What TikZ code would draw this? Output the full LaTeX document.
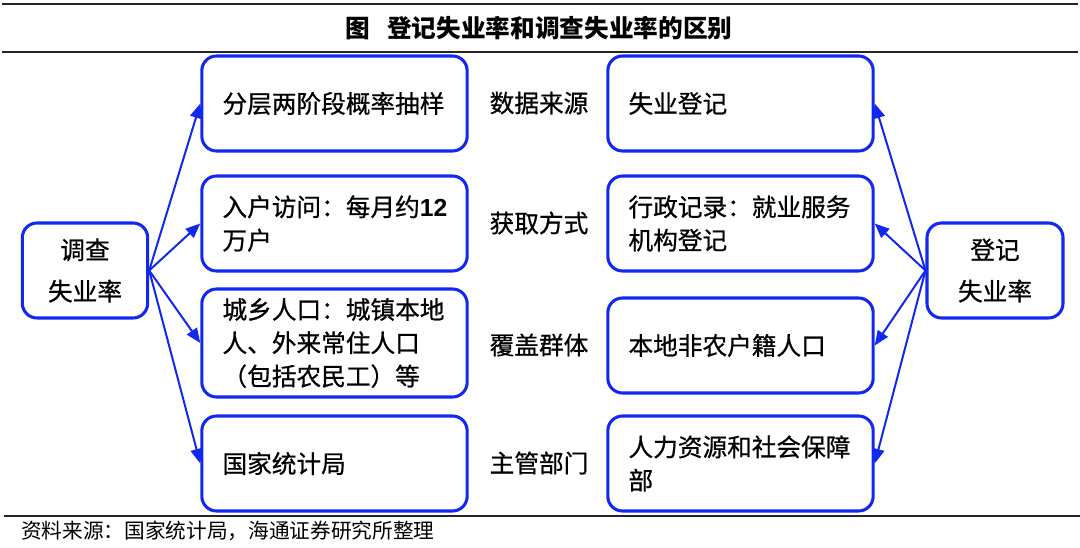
\documentclass[tikz,border=0pt]{standalone}
\usepackage{fontspec}
\setmainfont{Noto Sans CJK SC}[FakeBold=0.7]
\newfontfamily\plainf{Noto Sans CJK SC}
\newfontfamily\arialf{Liberation Sans}
\usetikzlibrary{arrows.meta}
\definecolor{boxblue}{RGB}{18,40,238}
\begin{document}
\begin{tikzpicture}[x=0.75pt,y=-0.75pt,
  frame/.style={draw=boxblue, line width=2.3pt, rounded corners=11pt, fill=white},
  bigbox/.style={frame, align=center, font=\fontsize{18.5}{31}\selectfont, inner sep=0pt},
  itembox/.style={frame, align=left, text width=168pt, inner xsep=15.5pt, inner ysep=0pt,
     minimum height=71.25pt, font=\fontsize{18.5}{25}\selectfont},
  midlabel/.style={font=\fontsize{18.5}{25}\selectfont, inner sep=0pt},
  arr/.style={draw=boxblue, line width=1.5pt, -{Triangle[length=11pt,width=9pt]}},
  rule/.style={line width=1.8pt, black!85}]
\useasboundingbox (0,0) rectangle (1080,548);
% rules
\draw[rule] (2,4) -- (1078,4);
\draw[rule] (2,52) -- (1078,52);
\draw[line width=1.2pt, black!85] (4,516) -- (1080,516);
% title and source
\node[font=\fontsize{18.5}{25}\selectfont\plainf\bfseries, inner sep=0pt] (title) at (539,28) {图\hspace{0.7em}登记失业率和调查失业率的区别};
\node[font=\fontsize{15.5}{20}\selectfont\plainf, anchor=west, inner sep=0pt] (src) at (21,531) {资料来源：国家统计局，海通证券研究所整理};
% side boxes
\node[bigbox, minimum width=94pt, minimum height=71.25pt] (L) at (85,270.5) {调查\\失业率};
\node[bigbox, minimum width=102pt, minimum height=71.25pt] (R) at (995,270.5) {登记\\失业率};
% left boxes
\node[itembox] (lb1) at (334.5,103.5) {分层两阶段概率抽样};
\node[itembox] (lb2) at (334.5,223.5) {入户访问：每月约{\arialf\bfseries 12}\\万户};
\node[itembox, minimum height=81pt] (lb3) at (334.5,343) {城乡人口：城镇本地\\人、外来常住人口\\（包括农民工）等};
\node[itembox] (lb4) at (334.5,463.5) {国家统计局};
% right boxes
\node[itembox] (rb1) at (740.5,103.5) {失业登记};
\node[itembox] (rb2) at (740.5,223.5) {行政记录：就业服务\\机构登记};
\node[itembox] (rb3) at (740.5,345.5) {本地非农户籍人口};
\node[itembox] (rb4) at (740.5,463.5) {人力资源和社会保障\\部};
% middle labels
\node[midlabel] (m1) at (539,103) {数据来源};
\node[midlabel] (m2) at (539,223) {获取方式};
\node[midlabel] (m3) at (539,345) {覆盖群体};
\node[midlabel] (m4) at (539,463) {主管部门};
% arrows
\foreach \t in {lb1,lb2,lb3,lb4} \draw[arr] (L.east) -- (\t.west);
\foreach \t in {rb1,rb2,rb3,rb4} \draw[arr] (R.west) -- (\t.east);
\end{tikzpicture}
\end{document}
